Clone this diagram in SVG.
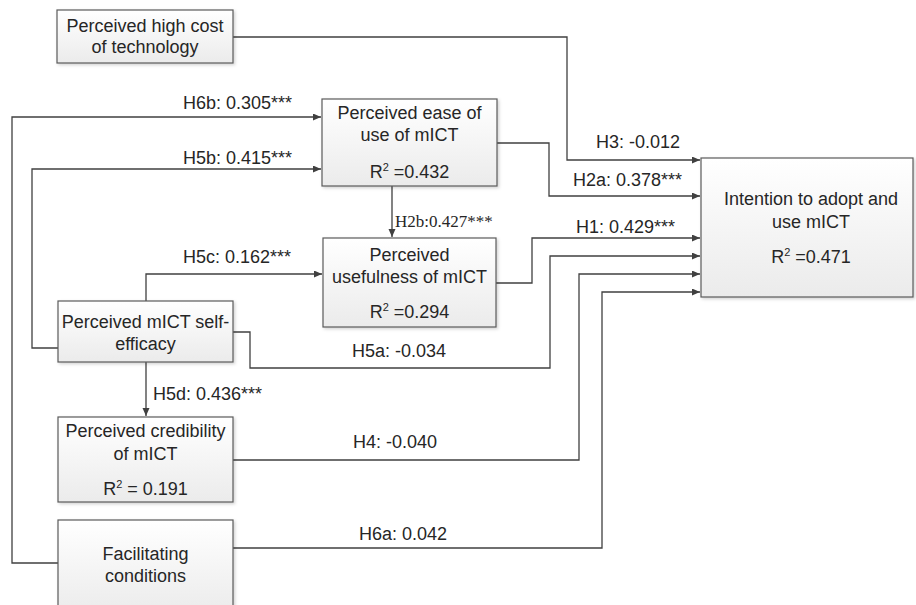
<svg xmlns="http://www.w3.org/2000/svg" width="916" height="605" viewBox="0 0 916 605">
<defs>
<linearGradient id="boxg" x1="0" y1="0" x2="0" y2="1">
<stop offset="0" stop-color="#ffffff"/>
<stop offset="1" stop-color="#ebebeb"/>
</linearGradient>
<filter id="sh" x="-5%" y="-5%" width="115%" height="120%">
<feDropShadow dx="1.5" dy="1.5" stdDeviation="1.5" flood-color="#000" flood-opacity="0.18"/>
</filter>
<marker id="arr" markerUnits="userSpaceOnUse" markerWidth="9" markerHeight="8" refX="8" refY="3.5" orient="auto">
<path d="M0,0 L8,3.5 L0,7 z" fill="#404040"/>
</marker>
</defs>
<style>
.box{fill:url(#boxg);stroke:#5a5a5a;stroke-width:1.2;filter:url(#sh)}
.t{font-family:"Liberation Sans",Arial,sans-serif;font-size:18px;fill:#262626;text-anchor:middle}
.l{font-family:"Liberation Sans",Arial,sans-serif;font-size:18px;fill:#262626}
.s{font-family:"Liberation Serif","Times New Roman",serif;font-size:17px;fill:#262626}
.c{fill:none;stroke:#404040;stroke-width:1.3}
.a{marker-end:url(#arr)}
.sup{font-size:11px}
</style>
<rect width="916" height="605" fill="#ffffff"/>

<g id="connectors">
<path class="c a" d="M233,37 H567 V160 H700"/>
<path class="c a" d="M497,143 H549 V196 H700"/>
<path class="c a" d="M496,283 H532 V238 H700"/>
<path class="c a" d="M233,332 H250 V368 H550 V256 H700"/>
<path class="c a" d="M233,460 H579 V274 H700"/>
<path class="c a" d="M233,548 H602 V292 H700"/>
<path class="c a" d="M58,563 H12 V117 H321"/>
<path class="c a" d="M58,348 H32 V169 H321"/>
<path class="c a" d="M146,301 V274 H322"/>
<path class="c a" d="M392,186 V237"/>
<path class="c a" d="M146,362 V416"/>
</g>

<g id="labels">
<text class="l" x="183" y="109">H6b: 0.305***</text>
<text class="l" x="183" y="164">H5b: 0.415***</text>
<text class="l" x="183" y="263">H5c: 0.162***</text>
<text class="s" x="395" y="227">H2b:0.427***</text>
<text class="l" x="596" y="148">H3: -0.012</text>
<text class="l" x="573" y="186">H2a: 0.378***</text>
<text class="l" x="576" y="233">H1: 0.429***</text>
<text class="l" x="352" y="357">H5a: -0.034</text>
<text class="l" x="153" y="400">H5d: 0.436***</text>
<text class="l" x="353" y="448">H4: -0.040</text>
<text class="l" x="359" y="540">H6a: 0.042</text>
</g>

<g id="cost">
<rect class="box" x="57" y="10" width="176" height="53"/>
<text class="t" x="145" y="32">Perceived high cost</text>
<text class="t" x="145" y="53">of technology</text>
</g>

<g id="ease">
<rect class="box" x="322" y="99" width="175" height="87"/>
<text class="t" x="409.5" y="119">Perceived ease of</text>
<text class="t" x="409.5" y="141">use of mICT</text>
<text class="t" x="409.5" y="178">R<tspan class="sup" dy="-7">2</tspan><tspan dy="7"> =0.432</tspan></text>
</g>

<g id="useful">
<rect class="box" x="323" y="238" width="173" height="89"/>
<text class="t" x="409.5" y="261">Perceived</text>
<text class="t" x="409.5" y="283">usefulness of mICT</text>
<text class="t" x="409.5" y="318">R<tspan class="sup" dy="-7">2</tspan><tspan dy="7"> =0.294</tspan></text>
</g>

<g id="selfefficacy">
<rect class="box" x="58" y="301" width="175" height="61"/>
<text class="t" x="145.5" y="328">Perceived mICT self-</text>
<text class="t" x="145.5" y="350">efficacy</text>
</g>

<g id="credibility">
<rect class="box" x="58" y="417" width="175" height="85"/>
<text class="t" x="145.5" y="437">Perceived credibility</text>
<text class="t" x="145.5" y="460">of mICT</text>
<text class="t" x="145.5" y="495">R<tspan class="sup" dy="-7">2</tspan><tspan dy="7"> = 0.191</tspan></text>
</g>

<g id="facilitating">
<rect class="box" x="58" y="520" width="175" height="95"/>
<text class="t" x="145.5" y="560">Facilitating</text>
<text class="t" x="145.5" y="582">conditions</text>
</g>

<g id="intention">
<rect class="box" x="701" y="158" width="212" height="139"/>
<text class="t" x="811" y="205">Intention to adopt and</text>
<text class="t" x="811" y="228">use mICT</text>
<text class="t" x="811" y="263">R<tspan class="sup" dy="-7">2</tspan><tspan dy="7"> =0.471</tspan></text>
</g>
</svg>
